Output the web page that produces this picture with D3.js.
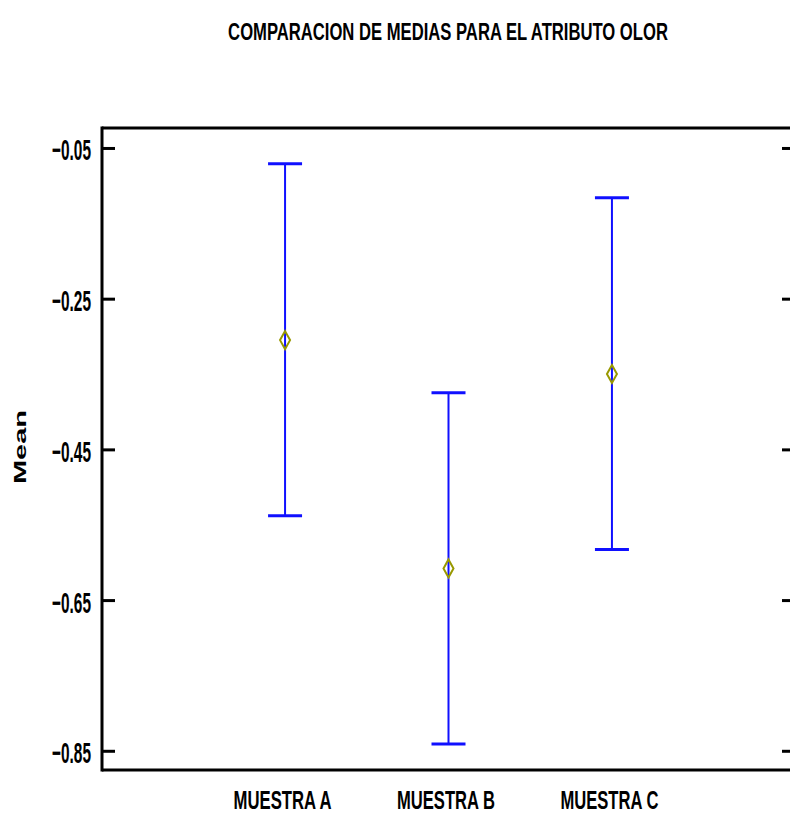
<!DOCTYPE html>
<html>
<head>
<meta charset="utf-8">
<script src="https://cdn.jsdelivr.net/npm/d3@7/dist/d3.min.js"></script>
<style>
  html, body { margin: 0; padding: 0; background: #fff; }
  svg { display: block; }
  .lbl { font-family: "Liberation Sans", Arial, sans-serif; font-weight: bold; fill: #000; }
</style>
</head>
<body>
<svg id="chart" width="790" height="816"></svg>
<script>
// Samples and their mean with interval bounds
const categories = ["MUESTRA A", "MUESTRA B", "MUESTRA C"];
const means = [-0.305, -0.608, -0.350];
const upper = [-0.071, -0.375, -0.116];
const lower = [-0.538, -0.841, -0.583];
const yTicks = [-0.05, -0.25, -0.45, -0.65, -0.85];
const titleText = "COMPARACION DE MEDIAS PARA EL ATRIBUTO OLOR";
const yLabel = "Mean";

const svg = d3.select("#chart");
const plotLeft = 102, plotRight = 795, plotTop = 128, plotBottom = 770;

const y = d3.scaleLinear().domain([-0.0235, -0.8755]).range([plotTop, plotBottom]);
const x = d3.scalePoint().domain(categories).range([plotLeft, plotRight]).padding(1.12);

// frame: left axis, top and bottom lines
const frame = svg.append("g").attr("stroke", "#000").attr("stroke-width", 3).attr("fill", "none");
frame.append("line").attr("x1", plotLeft).attr("x2", plotLeft).attr("y1", plotTop - 1.5).attr("y2", plotBottom + 1.5);
frame.append("line").attr("x1", plotLeft).attr("x2", 790).attr("y1", plotTop).attr("y2", plotTop);
frame.append("line").attr("x1", plotLeft).attr("x2", 790).attr("y1", plotBottom).attr("y2", plotBottom);

// left axis ticks and condensed labels
const yAxis = d3.axisLeft(y).tickValues(yTicks).tickSizeInner(-13).tickSizeOuter(0)
  .tickFormat(d3.format(".2f")).tickPadding(11);
const gy = svg.append("g").attr("transform", `translate(${plotLeft},0)`).call(yAxis);
gy.select(".domain").remove();
gy.selectAll(".tick line").attr("stroke", "#000").attr("stroke-width", 3);
gy.selectAll(".tick text").attr("class", "lbl")
  .style("font-size", "30px").attr("dy", null).attr("y", 12)
  .attr("textLength", 39).attr("lengthAdjust", "spacingAndGlyphs");

// right side ticks
const yRight = d3.axisRight(y).tickValues(yTicks).tickSizeInner(-13).tickSizeOuter(0).tickFormat("");
const gr = svg.append("g").attr("transform", `translate(${plotRight},0)`).call(yRight);
gr.select(".domain").remove();
gr.selectAll(".tick line").attr("stroke", "#000").attr("stroke-width", 3);

// category labels
const xAxis = d3.axisBottom(x).tickSize(0);
const gx = svg.append("g").attr("transform", `translate(0,${plotBottom})`).call(xAxis);
gx.select(".domain").remove();
gx.selectAll(".tick text").attr("class", "lbl")
  .style("font-size", "25px").attr("dy", null).attr("y", 39).attr("x", -3)
  .attr("textLength", 98).attr("lengthAdjust", "spacingAndGlyphs");

// interval bars
const rows = categories.map((c, i) => ({ c, m: means[i], hi: upper[i], lo: lower[i] }));
const bars = svg.append("g").attr("stroke", "#1010ff");
bars.selectAll("line.v").data(rows).join("line").attr("class", "v")
  .attr("x1", d => x(d.c)).attr("x2", d => x(d.c))
  .attr("y1", d => y(d.hi)).attr("y2", d => y(d.lo)).attr("stroke-width", 2);
["hi", "lo"].forEach(k => {
  bars.selectAll("line.cap-" + k).data(rows).join("line").attr("class", "cap-" + k)
    .attr("x1", d => x(d.c) - 17).attr("x2", d => x(d.c) + 17)
    .attr("y1", d => y(d[k])).attr("y2", d => y(d[k])).attr("stroke-width", 3);
});

// mean markers
svg.append("g").selectAll("path").data(rows).join("path")
  .attr("d", d => {
    const cx = x(d.c), cy = y(d.m);
    return `M${cx},${cy - 9}L${cx + 5},${cy}L${cx},${cy + 9}L${cx - 5},${cy}Z`;
  })
  .attr("fill", "none").attr("stroke", "#999900").attr("stroke-width", 2);

// title, squeezed horizontally into a condensed look
const title = svg.append("text").attr("class", "lbl")
  .attr("text-anchor", "middle").style("font-size", "23px")
  .text(titleText);
const titleScale = 440 / title.node().getComputedTextLength();
title.attr("transform", `translate(448,40) scale(${titleScale},1)`);

// y label
svg.append("text").attr("class", "lbl").attr("transform", "translate(26,447) rotate(-90)")
  .attr("text-anchor", "middle").style("font-size", "17px")
  .attr("textLength", 74).attr("lengthAdjust", "spacingAndGlyphs")
  .text(yLabel);
</script>
</body>
</html>
